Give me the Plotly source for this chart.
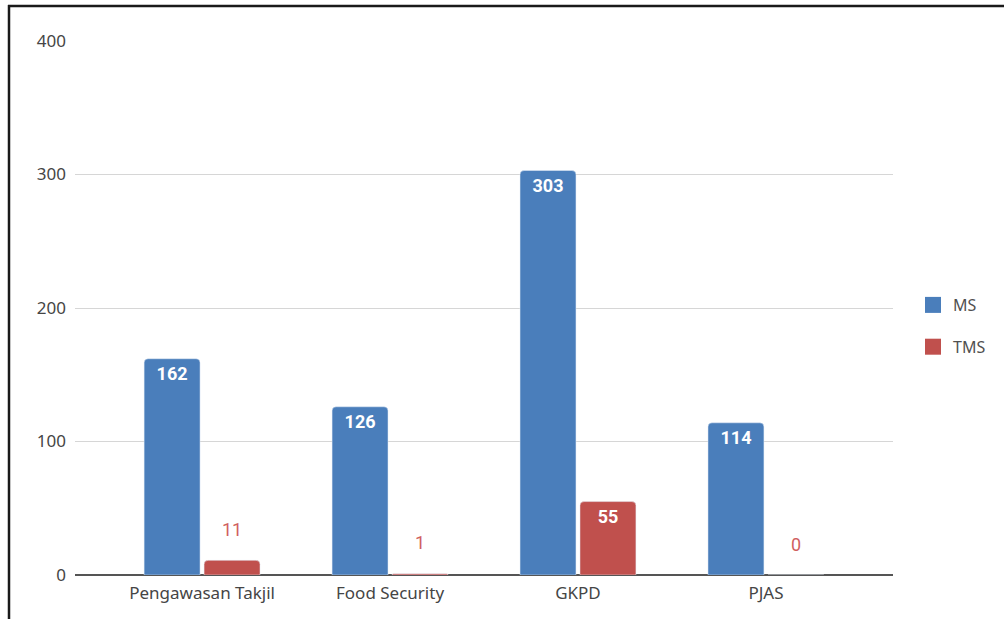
import plotly.graph_objects as go

categories = ["Pengawasan Takjil", "Food Security", "GKPD", "PJAS"]
ms_values = [162, 126, 303, 114]
tms_values = [11, 1, 55, 0]
y_ticks = [0, 100, 200, 300, 400]
series_names = ["MS", "TMS"]

MS_COLOR = "#4a7ebb"
TMS_COLOR = "#c0504d"
AXIS_FONT = "Noto Sans"
TICK_COLOR = "#454545"

# inside for big bars, annotation above for small ones
tms_inside = [v >= 30 for v in tms_values]

fig = go.Figure()
fig.add_trace(go.Bar(
    name=series_names[0], x=categories, y=ms_values, marker_color=MS_COLOR,
    text=[str(v) for v in ms_values], textposition="inside",
    insidetextanchor="end",
    textfont=dict(family="Roboto", size=18, color="white", weight="bold"),
    showlegend=False,
))
fig.add_trace(go.Bar(
    name=series_names[1], x=categories, y=tms_values, marker_color=TMS_COLOR,
    text=[str(v) if ins else "" for v, ins in zip(tms_values, tms_inside)],
    textposition="inside", insidetextanchor="end",
    textfont=dict(family="Roboto", size=18, color="white", weight="bold"),
    showlegend=False,
))

# legend entries with larger square swatches
for name, color in zip(series_names, [MS_COLOR, TMS_COLOR]):
    fig.add_trace(go.Scatter(
        name=name, x=[None], y=[None], mode="markers",
        marker=dict(symbol="square", size=20, color=color),
        legendgroup=name, showlegend=True,
    ))

for c, v, ins in zip(categories, tms_values, tms_inside):
    if not ins:
        fig.add_annotation(
            x=c, y=v, xref="x", yref="y", text=str(v), showarrow=False,
            xshift=30, yshift=31,
            font=dict(family="Roboto", size=18, color="#d0605e"),
        )

L, R, T, B = 75, 111, 41, 44
W, H = 1004, 619
pw, ph = W - L - R, H - T - B

def px_x(p):
    return (p - L) / pw

def px_y(p):
    return (H - B - p) / ph

# screenshot frame (left and top black lines)
fig.add_shape(type="line", xref="paper", yref="paper",
              x0=px_x(9), x1=px_x(9), y0=px_y(5), y1=px_y(H + 5),
              line=dict(color="#1a1a1a", width=2.5))
fig.add_shape(type="line", xref="paper", yref="paper",
              x0=px_x(8), x1=px_x(W + 5), y0=px_y(6), y1=px_y(6),
              line=dict(color="#1a1a1a", width=2.5))

fig.update_layout(
    width=W, height=H,
    margin=dict(l=L, r=R, t=T, b=B, pad=0),
    paper_bgcolor="white", plot_bgcolor="white",
    barmode="group", bargap=0.362, bargroupgap=0.067,
    barcornerradius=4,
    showlegend=True,
    legend=dict(x=px_x(913), xanchor="left", y=px_y(326), yanchor="middle",
                font=dict(family=AXIS_FONT, size=16, color="#505050"),
                tracegroupgap=18, itemwidth=30),
    xaxis=dict(range=[-0.676, 3.676], showgrid=False, ticks="",
               tickfont=dict(family=AXIS_FONT, size=17, color=TICK_COLOR),
               showline=False, zeroline=False, ticklabelstandoff=6),
    yaxis=dict(range=[0, 400], tickvals=y_ticks, showgrid=True,
               gridcolor="#d6d6d6", gridwidth=1.3,
               zeroline=True, zerolinecolor="#555555", zerolinewidth=2,
               ticks="", tickfont=dict(family=AXIS_FONT, size=17, color=TICK_COLOR),
               ticklabelstandoff=8, showline=False),
)

fig.write_html("out.html", config={"displayModeBar": False},
               post_script="document.body.style.margin='0';")
